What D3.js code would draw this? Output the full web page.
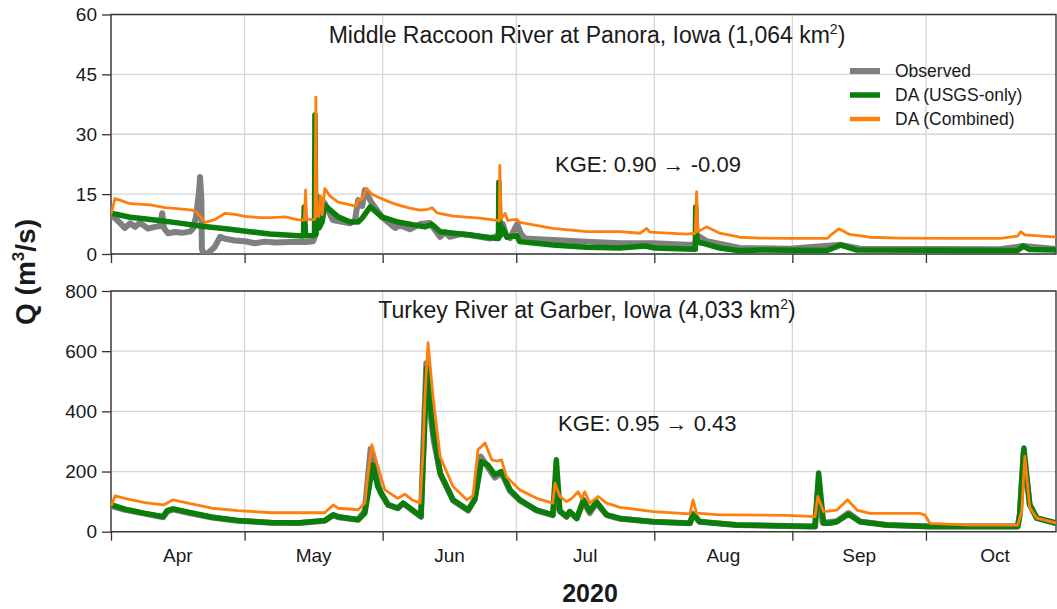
<!DOCTYPE html>
<html>
<head>
<meta charset="utf-8">
<script src="https://cdn.jsdelivr.net/npm/d3@7"></script>
<style>
  body { margin: 0; background: #fff; }
  svg { display: block; }
  text { font-family: "Liberation Sans", Arial, Helvetica, sans-serif; fill: #1a1a1a; }
</style>
</head>
<body>
<svg id="chart" width="1057" height="609"></svg>
<script>
// Month labels for the shared time axis (season 2020)
const monthLabels = ["Apr", "May", "Jun", "Jul", "Aug", "Sep", "Oct"];
const panoraTicks = [0, 15, 30, 45, 60];
const garberTicks = [0, 200, 400, 600, 800];

// Each series: [days since 1 Apr 2020, discharge Q in m3/s]
// Middle Raccoon River at Panora
const panoraObserved = [
  [0, 9.8], [1.1, 8.8], [2, 7.8], [3.1, 6.5], [4.3, 7.7], [5.4, 6.8], [6.5, 7.8], [8.3, 6.4],
  [9.9, 6.8], [11, 7], [11.5, 10.2], [11.9, 6.5], [12.8, 5.2], [14.4, 5.5], [15.9, 5.3],
  [17.7, 5.6], [18.4, 6.3], [19.1, 9.3], [19.8, 16], [20, 19.3], [20.3, 13.5], [20.4, 1.4],
  [20.7, 0], [21.8, 0.2], [23.3, 1.8], [24.5, 4.3], [25.6, 3.8], [27.8, 3.4], [30.1, 3.2],
  [32.3, 2.7], [34.6, 3.1], [36.8, 2.9], [40.2, 3], [43.6, 3], [45.4, 3.2], [46, 5],
  [46.5, 14.3], [46.9, 10], [47.4, 13.5], [48, 12.7], [49.8, 8.5], [53.7, 7.7], [54.8, 8.5],
  [55.5, 13.5], [56.4, 12], [57, 16], [58.6, 12.7], [60.8, 9.3], [63.8, 6.5], [64.9, 7.2],
  [67.1, 6.2], [69.4, 7.5], [71.6, 7.75], [73.9, 4.3], [75, 5.5], [76.1, 4.3], [78.4, 5],
  [80.6, 4.75], [85.1, 3.9], [86.7, 4.5], [87.4, 5.7], [88, 7.5], [88.7, 4.8], [89.6, 4],
  [91.2, 7.5], [92.1, 5], [93, 3.9], [99.2, 3.5], [106.9, 3.1], [114.3, 2.7], [121.7, 2.7],
  [130.7, 2.25], [132.2, 4.3], [133.8, 3.2], [141.2, 1.5], [152.4, 1.3], [163.9, 2.3],
  [168.2, 1.3], [199.6, 1.2], [204.7, 2], [212.4, 1.2]
];
const panoraUsgs = [
  [0, 10.2], [4.3, 9.2], [9.9, 8.5], [15, 7.8], [20, 7], [26.7, 6.2], [31.2, 5.6], [35.7, 5],
  [40.2, 4.7], [42.9, 4.5], [43.2, 4.5], [43.4, 11.8], [43.7, 4.6], [45.4, 4.6], [45.7, 4.8],
  [45.8, 34.8], [46, 5], [46.4, 8.5], [46.7, 6.5], [47.4, 8], [48, 12.2], [51, 9.3],
  [53.7, 8], [55.5, 8], [56.4, 9], [58.2, 11.8], [60.8, 9.3], [64.4, 8], [70.5, 6.8],
  [72.1, 7.4], [73.9, 5.6], [80.6, 4.75], [86.7, 3.9], [87, 3.9], [87.1, 18], [87.4, 4.5],
  [87.8, 6.8], [88.9, 4.2], [91.1, 4.6], [91.8, 3.1], [99.2, 2.25], [106.9, 1.7], [114.3, 1.5],
  [119.9, 2], [122.1, 1.5], [130.7, 1.2], [131.2, 1.2], [131.3, 11.8], [131.6, 3], [133.6, 2.5],
  [136.7, 1.5], [141.2, 0.8], [145.7, 1], [160.8, 0.9], [163.9, 2.25], [167.5, 1],
  [203.6, 0.9], [204.9, 2], [206.3, 1.1], [212.4, 1]
];
const panoraCombined = [
  [0, 10], [0.9, 13.9], [2, 13.5], [4.3, 12.6], [6.1, 12.5], [8.8, 12.3], [12.1, 11.6],
  [15.5, 11.3], [18.2, 11], [18.9, 10.7], [20, 9.5], [21.1, 7.9], [23.3, 8.6], [25.6, 10.2],
  [27.8, 9.9], [30.1, 9.4], [33.5, 9.1], [36.1, 9.1], [39.1, 9.3], [41.8, 8.6], [42.9, 8.5],
  [43.4, 8.5], [43.7, 16], [43.9, 8.7], [45.4, 8.6], [45.8, 8.8], [46, 39.3], [46.2, 9.5],
  [46.55, 9.5], [47.1, 14.5], [47.4, 9.8], [48, 16.4], [49.2, 14.5], [51, 13], [53.7, 12.3],
  [55, 12], [55.5, 13.5], [56.4, 13.8], [57.4, 16.4], [58.6, 15], [59.9, 14.3], [62.6, 13],
  [64.4, 12.3], [67.1, 11.5], [69.4, 11], [71.2, 11.2], [72.1, 11.6], [73.2, 10.3],
  [76.8, 9.5], [82.8, 9], [86.7, 8.4], [87.2, 8.3], [87.3, 22.2], [87.6, 8.8], [88.5, 10.2],
  [89.1, 8.4], [91.1, 8.7], [91.8, 7.9], [99.2, 6.4], [106.9, 5.6], [114.3, 5.6], [118.8, 5.2],
  [120.3, 6.4], [121, 5.5], [129.3, 5], [131.2, 5.2], [131.5, 15.6], [131.8, 5.6],
  [133.7, 6.8], [136.7, 5.2], [141.2, 4.2], [145.7, 4], [152.4, 3.9], [160.8, 3.9],
  [161.9, 5], [163.4, 6.3], [165.9, 4.9], [170.4, 4.2], [177.1, 4], [188.4, 3.9],
  [199.6, 3.9], [203.6, 4.5], [204.3, 5.6], [205.2, 4.8], [212.4, 4.2]
];

// Turkey River at Garber
const garberObserved = [
  [0.15, 85], [3.1, 73], [7.6, 60], [11.7, 48], [12.6, 66], [13.9, 74], [17.3, 63], [22.7, 47],
  [28.5, 36], [36.1, 30], [42.4, 29], [48, 36], [49.9, 55], [51, 48], [55.5, 40], [57, 70],
  [58.3, 275], [59.3, 200], [60.5, 130], [62.2, 90], [64.4, 78], [65.6, 94], [67.6, 72],
  [69.6, 50], [70.3, 350], [70.8, 560], [71.5, 420], [72.5, 300], [74, 190], [76.8, 104],
  [80.2, 70], [81.7, 110], [83, 250], [84.6, 215], [86.2, 180], [87.7, 195], [89.6, 135],
  [91.8, 104], [95.6, 70], [99.2, 55], [99.8, 120], [100.8, 70], [102.3, 50], [103, 66],
  [104.6, 44], [106.1, 100], [107.5, 62], [109, 95], [111.3, 55], [114.3, 43], [121.7, 33],
  [130, 28], [130.7, 60], [132.2, 33], [140.5, 22], [154.7, 18], [158.1, 17], [158.8, 150],
  [159.8, 30], [163, 35], [165.6, 62], [168.2, 34], [174.2, 22], [183.9, 17], [203.6, 17],
  [204.1, 60], [204.9, 262], [206.3, 90], [207.9, 45], [212.4, 28]
];
const garberUsgs = [
  [0.15, 89], [3.1, 75], [7.6, 61], [11.7, 50], [12.6, 70], [13.9, 76], [17.3, 65], [22.7, 48],
  [28.5, 37], [36.1, 30], [42.4, 30], [48, 37], [49.9, 56], [51, 50], [55.5, 40], [57, 61],
  [58.8, 222], [59.9, 150], [62.2, 89], [64.4, 78], [65.6, 95], [67.6, 73], [69.6, 50],
  [70.3, 300], [70.9, 545], [72.3, 339], [73.9, 195], [76.8, 106], [80.2, 72], [81.7, 106],
  [83.2, 233], [84.6, 222], [86.2, 189], [87.7, 200], [89.6, 139], [91.8, 106], [95.6, 72],
  [99.2, 56], [100, 239], [100.8, 67], [102.3, 50], [103, 67], [104.6, 45], [106.1, 106],
  [107.5, 67], [109, 100], [111.3, 56], [114.3, 44], [121.7, 33], [130, 28], [130.7, 56],
  [132.2, 33], [140.5, 22], [154.7, 18], [158.1, 17], [158.9, 195], [160, 28], [161.4, 28],
  [163, 33], [165.6, 58], [168.2, 33], [174.2, 22], [183.9, 17], [203.6, 17], [204, 50],
  [205, 278], [206.3, 90], [207.9, 45], [212.4, 28]
];
const garberCombined = [
  [0.15, 89], [0.9, 119], [3.1, 111], [7.6, 97], [11.7, 89], [12.6, 95], [13.9, 106],
  [17.3, 95], [22.7, 78], [28.5, 70], [36.1, 63], [42.4, 63], [48, 63], [49.9, 89], [51, 78],
  [55.5, 73], [57, 95], [58.2, 250], [58.6, 289], [59.7, 228], [61.5, 139], [64.4, 111],
  [66, 125], [67.6, 106], [69.4, 95], [70, 250], [70.5, 450], [71.2, 628], [72.3, 450],
  [73.9, 250], [76.8, 150], [79.9, 106], [81.3, 120], [82.4, 272], [84, 295], [85.5, 239],
  [86.6, 235], [87.7, 239], [88.8, 183], [91.8, 139], [95.6, 111], [99.2, 95], [99.7, 161],
  [100.8, 117], [102.3, 100], [103.4, 110], [104.9, 133], [105.7, 110], [106.4, 133],
  [107.5, 95], [109.4, 117], [111.3, 95], [114.3, 81], [121.7, 67], [130, 59], [130.7, 106],
  [131.5, 62], [136.7, 56], [140.5, 56], [151.8, 54], [158.1, 50], [158.7, 117], [160, 67],
  [163, 72], [165.4, 106], [167.5, 72], [170.4, 61], [181.6, 61], [182.8, 55], [183.9, 28],
  [192.9, 22], [203.6, 22], [204.5, 67], [205.2, 250], [206.3, 80], [207.9, 45], [212.4, 28]
];

const seriesStyle = [
  { key: "observed", name: "Observed", color: "#7f7f7f", width: 6 },
  { key: "usgs", name: "DA (USGS-only)", color: "#0a7d0a", width: 5.5 },
  { key: "combined", name: "DA (Combined)", color: "#ff7f0e", width: 2.8 }
];

const panels = [
  {
    id: "panora", top: 14.5, bottom: 254, max: 60, ticks: panoraTicks,
    river: "Middle Raccoon River at Panora, Iowa (1,064 km", titleY: 42.7,
    kge: "KGE: 0.90 \u2192 -0.09", kgeX: 555, kgeY: 172,
    data: { observed: panoraObserved, usgs: panoraUsgs, combined: panoraCombined },
    legend: true, monthText: false
  },
  {
    id: "garber", top: 291, bottom: 531.7, max: 800, ticks: garberTicks,
    river: "Turkey River at Garber, Iowa (4,033 km", titleY: 318,
    kge: "KGE: 0.95 \u2192 0.43", kgeX: 558, kgeY: 431,
    data: { observed: garberObserved, usgs: garberUsgs, combined: garberCombined },
    legend: false, monthText: true
  }
];

const svg = d3.select("#chart");
const left = 111, right = 1064, frameRight = 1056;
const t0 = Date.UTC(2020, 3, 1);
const toDate = d => new Date(t0 + d * 864e5);
const x = d3.scaleUtc()
  .domain([new Date(t0), new Date(Date.UTC(2020, 10, 1))])
  .range([left, right]);
const monthStarts = d3.utcMonths(new Date(t0), new Date(Date.UTC(2020, 10, 2)));

panels.forEach(p => {
  const y = d3.scaleLinear().domain([0, p.max]).range([p.bottom, p.top]);
  const g = svg.append("g").attr("class", p.id);

  // grid
  g.append("g").selectAll("line.h").data(p.ticks).join("line")
    .attr("x1", left).attr("x2", frameRight)
    .attr("y1", d => y(d)).attr("y2", d => y(d))
    .attr("stroke", "#d6d6d6").attr("stroke-width", 1.3);
  g.append("g").selectAll("line.v").data(monthStarts).join("line")
    .attr("x1", d => x(d)).attr("x2", d => x(d))
    .attr("y1", p.top).attr("y2", p.bottom)
    .attr("stroke", "#d6d6d6").attr("stroke-width", 1.3);

  // y axis
  const ya = g.append("g").attr("transform", `translate(${left},0)`)
    .call(d3.axisLeft(y).tickValues(p.ticks).tickSize(9).tickPadding(5));
  ya.select(".domain").remove();
  ya.selectAll(".tick line").attr("stroke", "#333").attr("stroke-width", 1.3);
  ya.selectAll(".tick text").style("font-size", "19px").attr("fill", "#1a1a1a")
    .style("font-family", "'Liberation Sans', Arial, sans-serif");

  // x axis (month boundaries)
  const xa = g.append("g").attr("transform", `translate(0,${p.bottom})`)
    .call(d3.axisBottom(x).tickValues(monthStarts).tickSize(9).tickFormat(""));
  xa.select(".domain").remove();
  xa.selectAll(".tick line").attr("stroke", "#333").attr("stroke-width", 1.3);

  if (p.monthText) {
    g.append("g").selectAll("text").data(monthLabels).join("text")
      .attr("x", (d, i) => (x(monthStarts[i]) + x(monthStarts[i + 1])) / 2)
      .attr("y", p.bottom + 30)
      .attr("text-anchor", "middle")
      .style("font-size", "19px")
      .text(d => d);
  }

  // frame
  g.append("path")
    .attr("d", `M${left},${p.bottom}V${p.top}H${frameRight}V${p.bottom}Z`)
    .attr("fill", "none").attr("stroke", "#3a3a3a").attr("stroke-width", 1.4);

  // clip for series
  const clipId = "clip-" + p.id;
  g.append("clipPath").attr("id", clipId).append("rect")
    .attr("x", left).attr("y", p.top).attr("width", frameRight - left).attr("height", p.bottom - p.top);

  const line = d3.line().x(d => x(toDate(d[0]))).y(d => y(d[1]));
  const lines = g.append("g").attr("clip-path", `url(#${clipId})`);
  seriesStyle.forEach(s => {
    lines.append("path")
      .datum(p.data[s.key])
      .attr("d", line)
      .attr("fill", "none")
      .attr("stroke", s.color)
      .attr("stroke-width", s.width)
      .attr("stroke-linejoin", "round")
      .attr("stroke-linecap", "round");
  });

  // panel title with superscript
  const title = g.append("text")
    .attr("x", 587).attr("y", p.titleY)
    .attr("text-anchor", "middle")
    .style("font-size", "23px");
  title.append("tspan").text(p.river);
  title.append("tspan").attr("dy", -9).style("font-size", "14px").text("2");
  title.append("tspan").attr("dy", 9).text(")");

  g.append("text")
    .attr("x", p.kgeX).attr("y", p.kgeY)
    .style("font-size", "22px")
    .text(p.kge);

  // legend
  if (p.legend) {
    const lg = g.append("g");
    seriesStyle.forEach((s, i) => {
      const ly = 71 + i * 24;
      lg.append("line")
        .attr("x1", 850).attr("x2", 880).attr("y1", ly).attr("y2", ly)
        .attr("stroke", s.color).attr("stroke-width", Math.max(s.width, 4.5));
      lg.append("text")
        .attr("x", 895).attr("y", ly + 6)
        .style("font-size", "17.5px")
        .text(s.name);
    });
  }
});

// shared axis titles
const yl = svg.append("text")
  .attr("transform", "translate(35,272) rotate(-90)")
  .attr("text-anchor", "middle")
  .style("font-size", "28px").style("font-weight", "bold");
yl.append("tspan").text("Q (m");
yl.append("tspan").attr("dy", -11).style("font-size", "17px").text("3");
yl.append("tspan").attr("dy", 11).text("/s)");

svg.append("text")
  .attr("x", 590).attr("y", 602)
  .attr("text-anchor", "middle")
  .style("font-size", "25px").style("font-weight", "bold")
  .text("2020");
</script>
</body>
</html>
